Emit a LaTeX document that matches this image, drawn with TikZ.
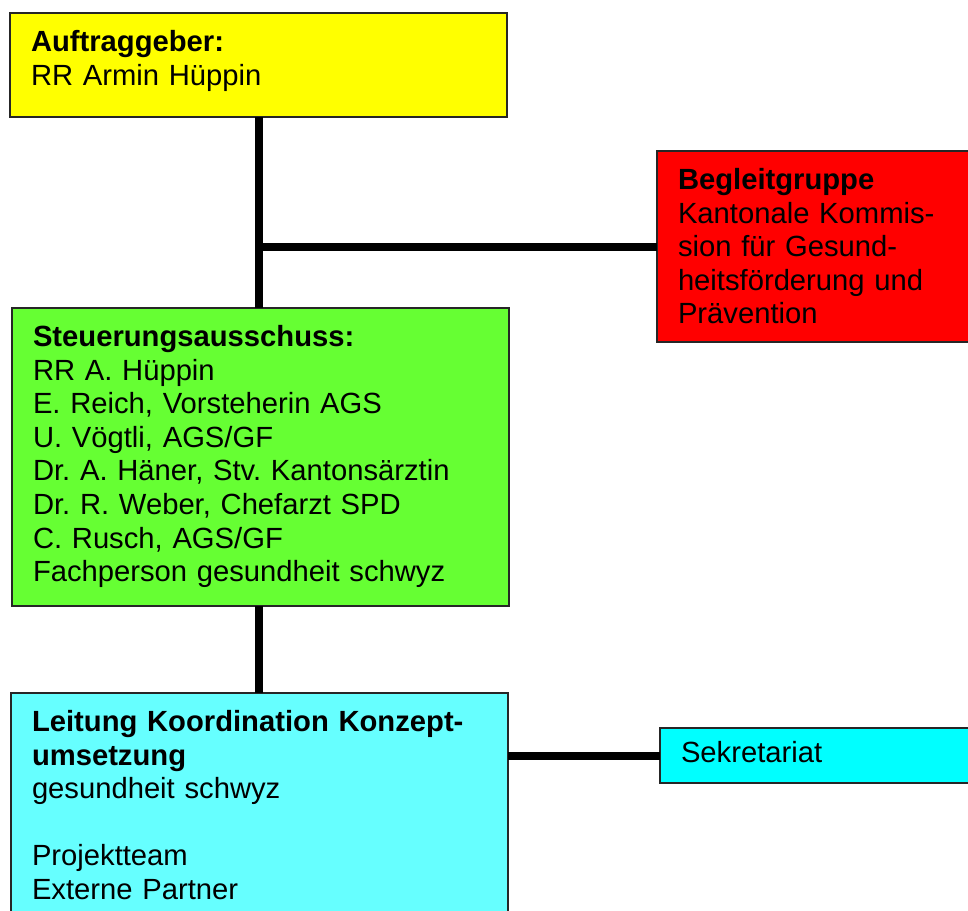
\documentclass[tikz,border=0pt]{standalone}
\usepackage{fontspec}
\setmainfont{Liberation Sans}
\usepackage{tikz}
\usetikzlibrary{positioning}
\definecolor{auftraggelb}{RGB}{255,255,0}
\definecolor{begleitrot}{RGB}{255,0,0}
\definecolor{steuergruen}{RGB}{102,255,51}
\definecolor{leitungcyan}{RGB}{102,255,255}
\definecolor{sekcyan}{RGB}{0,255,255}
\newcommand{\orgfont}{\fontsize{29.2}{33.6}\selectfont\frenchspacing}
\newcommand{\boxbottom}[1]{\rule[-#1]{0pt}{#1}}

\begin{document}
\begin{tikzpicture}[x=1pt,y=1pt]
        \useasboundingbox (0,0) rectangle (968,-910);
        \begin{scope}[every node/.style={draw=black!85, line width=1.5pt, anchor=north west, align=left,
                      inner xsep=21pt, inner ysep=15pt, outer sep=0pt, font=\orgfont, execute at begin node=\strut}]
            \node[fill=auftraggelb, text width=455pt] (auftrag) at (10,-13)
                {\textbf{Auftraggeber:}\\RR Armin Hüppin\boxbottom{16.9pt}};
            \node[fill=begleitrot, text width=300pt] (begleit) at (657,-151)
                {\textbf{Begleitgruppe}\\Kantonale Kommis-\\sion für Gesund-\\heitsförderung und\\Prävention\boxbottom{3.1pt}};
            \node[fill=steuergruen, text width=455pt] (steuer) at (12,-308)
                {\textbf{Steuerungsausschuss:}\\RR A. Hüppin\\E. Reich, Vorsteherin AGS\\U. Vögtli, AGS/GF\\
                 Dr. A. Häner, Stv. Kantonsärztin\\Dr. R. Weber, Chefarzt SPD\\C. Rusch, AGS/GF\\
                 Fachperson gesundheit schwyz\boxbottom{9.3pt}};
            \node[fill=leitungcyan, text width=455pt] (leitung) at (11,-693)
                {\textbf{Leitung Koordination Konzept-}\\\textbf{umsetzung}\\gesundheit schwyz\\[33.6pt]
                 Projektteam\\Externe Partner\boxbottom{30pt}};
            \node[fill=sekcyan, text width=300pt, inner ysep=10.7pt] (sekretariat) at (660,-728)
                {Sekretariat};
        \end{scope}
        \begin{scope}[line width=8pt]
             \draw (auftrag.south) -- (auftrag.south |- steuer.north);
             \draw (begleit.west) -- (begleit.west -| auftrag.south);
             \draw (auftrag.south |- steuer.south) -- (auftrag.south |- leitung.north);
             \draw (leitung.east |- sekretariat.west) -- (sekretariat.west);
        \end{scope}
\end{tikzpicture}
\end{document}
